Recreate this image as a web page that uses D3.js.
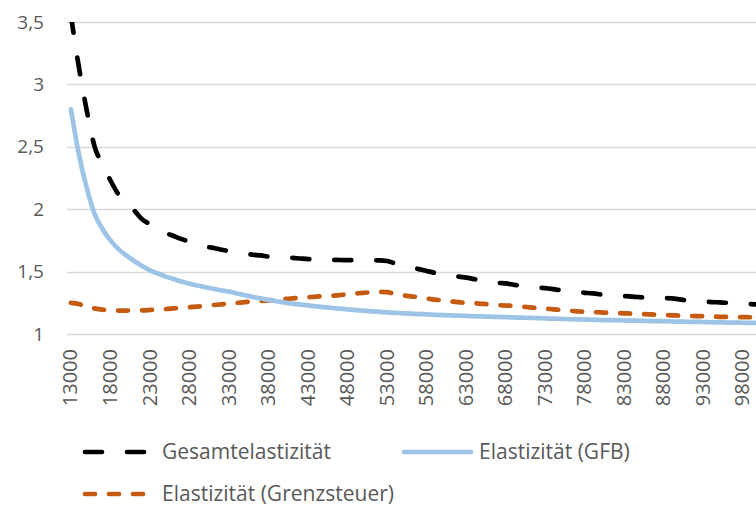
<!DOCTYPE html>
<html>
<head>
<meta charset="utf-8">
<script src="https://d3js.org/d3.v7.min.js"></script>
<style>
  body { margin: 0; background: #fff; }
  text { font-family: "Open Sans", sans-serif; fill: #595959; }
</style>
</head>
<body>
<div id="chart"></div>
<script>
// x categories: 13000 .. 100000 step 1000
var categories = d3.range(13000, 100001, 1000);
var yTicks = [1, 1.5, 2, 2.5, 3, 3.5];

var gesamt = [3.55, 3.14, 2.79, 2.50, 2.36, 2.23, 2.12, 2.05, 1.99, 1.92,
  1.88, 1.84, 1.81, 1.785, 1.76, 1.74, 1.72, 1.70, 1.69, 1.675,
  1.665, 1.655, 1.645, 1.635, 1.63, 1.62, 1.617, 1.613, 1.61, 1.605,
  1.60, 1.597, 1.595, 1.594, 1.593, 1.592, 1.591, 1.59, 1.59, 1.59,
  1.585, 1.565, 1.55, 1.535, 1.52, 1.505, 1.49, 1.475, 1.465, 1.46,
  1.452, 1.44, 1.43, 1.42, 1.41, 1.405, 1.395, 1.385, 1.377, 1.372,
  1.368, 1.36, 1.35, 1.342, 1.335, 1.33, 1.325, 1.317, 1.308, 1.305,
  1.303, 1.30, 1.295, 1.29, 1.288, 1.288, 1.285, 1.277, 1.268, 1.262,
  1.258, 1.256, 1.253, 1.25, 1.248, 1.245, 1.24, 1.235];

var gfb = [2.80, 2.44, 2.17, 1.96, 1.84, 1.75, 1.68, 1.63, 1.585, 1.545,
  1.51, 1.485, 1.46, 1.44, 1.42, 1.403, 1.388, 1.375, 1.362, 1.35,
  1.34, 1.325, 1.31, 1.297, 1.285, 1.273, 1.262, 1.252, 1.244, 1.236,
  1.229, 1.222, 1.215, 1.209, 1.203, 1.197, 1.192, 1.187, 1.182, 1.178,
  1.174, 1.17, 1.166, 1.163, 1.16, 1.157, 1.154, 1.151, 1.149, 1.147,
  1.145, 1.143, 1.141, 1.139, 1.137, 1.135, 1.133, 1.131, 1.129, 1.127,
  1.125, 1.123, 1.121, 1.119, 1.117, 1.116, 1.114, 1.112, 1.111, 1.11,
  1.108, 1.107, 1.106, 1.104, 1.103, 1.102, 1.10, 1.099, 1.098, 1.097,
  1.096, 1.094, 1.093, 1.092, 1.091, 1.09, 1.089, 1.088];

var grenz = [1.25, 1.24, 1.215, 1.205, 1.195, 1.19, 1.188, 1.188, 1.19, 1.19,
  1.193, 1.197, 1.20, 1.205, 1.21, 1.215, 1.22, 1.225, 1.232, 1.238,
  1.244, 1.25, 1.255, 1.26, 1.265, 1.27, 1.275, 1.28, 1.285, 1.29,
  1.295, 1.30, 1.303, 1.307, 1.312, 1.318, 1.324, 1.33, 1.335, 1.338,
  1.335, 1.322, 1.31, 1.302, 1.295, 1.285, 1.275, 1.27, 1.262, 1.255,
  1.25, 1.246, 1.242, 1.238, 1.232, 1.228, 1.225, 1.22, 1.214, 1.208,
  1.204, 1.198, 1.192, 1.186, 1.182, 1.178, 1.176, 1.173, 1.17, 1.168,
  1.166, 1.163, 1.161, 1.158, 1.155, 1.152, 1.15, 1.147, 1.145, 1.144,
  1.143, 1.14, 1.138, 1.137, 1.136, 1.135, 1.134, 1.133];

var seriesNames = ["Gesamtelastizität", "Elastizität (GFB)", "Elastizität (Grenzsteuer)"];

var W = 756, H = 507;
var plot = {left: 67, top: 22, bottom: 334, right: 67 + 88 * 7.906};

var svg = d3.select("#chart").append("svg")
  .attr("width", W).attr("height", H);

var x = d3.scaleBand().domain(categories).range([plot.left, plot.right]);
var y = d3.scaleLinear().domain([1, 3.5]).range([plot.bottom, plot.top]);
var cx = function(c) { return x(c) + x.bandwidth() / 2; };

// gridlines
svg.append("g").selectAll("line").data(yTicks).enter().append("line")
  .attr("x1", plot.left).attr("x2", W)
  .attr("y1", function(d) { return Math.round(y(d)) + 0.5; })
  .attr("y2", function(d) { return Math.round(y(d)) + 0.5; })
  .attr("stroke", "#d9d9d9").attr("stroke-width", 1.3);

// y labels
svg.append("g").selectAll("text").data(yTicks).enter().append("text")
  .attr("x", 44).attr("y", function(d) { return y(d); })
  .attr("dy", "0.35em").attr("text-anchor", "end")
  .style("font-size", "19px")
  .text(function(d) { return String(d).replace(".", ","); });

// x labels every 5th category
svg.append("g").selectAll("text")
  .data(categories.filter(function(c, i) { return i % 5 === 0; }))
  .enter().append("text")
  .attr("transform", function(d) { return "translate(" + (cx(d) + 6.5) + "," + (plot.bottom + 15) + ") rotate(-90)"; })
  .attr("text-anchor", "end")
  .style("font-size", "20px")
  .text(function(d) { return d; });

svg.append("clipPath").attr("id", "clip").append("rect")
  .attr("x", plot.left - 10).attr("y", plot.top).attr("width", W).attr("height", plot.bottom - plot.top + 20);

var line = d3.line()
  .x(function(d) { return cx(d[0]); })
  .y(function(d) { return y(d[1]); })
  .curve(d3.curveMonotoneX);

var styles = [
  {color: "#000000", dash: "17,25"},
  {color: "#9dc3e6", dash: null},
  {color: "#c55a11", dash: "10,14"}
];
var data = [gesamt, gfb, grenz];

var g = svg.append("g").attr("clip-path", "url(#clip)");
// draw order: orange, blue, black on top
[2, 1, 0].forEach(function(i) {
  var pts = categories.map(function(c, j) { return [c, data[i][j]]; });
  g.append("path").datum(pts)
    .attr("d", line)
    .attr("fill", "none")
    .attr("stroke", styles[i].color)
    .attr("stroke-width", 4.7)
    .attr("stroke-linecap", "round")
    .attr("stroke-linejoin", "round")
    .attr("stroke-dasharray", styles[i].dash);
});

// legend
var legend = [
  {i: 0, x: 85, y: 452},
  {i: 1, x: 404, y: 452},
  {i: 2, x: 85, y: 494}
];
legend.forEach(function(l) {
  svg.append("line")
    .attr("x1", l.x).attr("x2", l.i === 1 ? l.x + 67 : l.x + 61)
    .attr("y1", l.y).attr("y2", l.y)
    .attr("stroke", styles[l.i].color)
    .attr("stroke-width", 4.7)
    .attr("stroke-linecap", "round")
    .attr("stroke-dasharray", styles[l.i].dash);
  svg.append("text")
    .attr("x", l.i === 1 ? 479 : 162).attr("y", l.y)
    .attr("dy", "0.35em")
    .style("font-size", "21px")
    .text(seriesNames[l.i]);
});
</script>
</body>
</html>
